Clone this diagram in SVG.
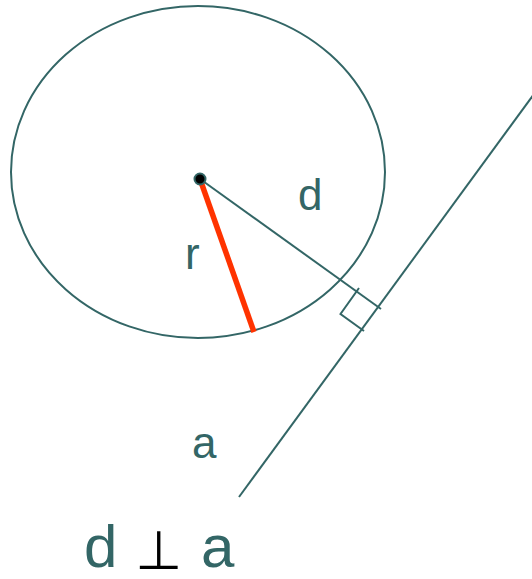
<svg xmlns="http://www.w3.org/2000/svg" width="532" height="579" viewBox="0 0 532 579">
<style>
.ln{fill:none;stroke:#336666;stroke-width:2}
.lbl{font-family:"Liberation Sans",Arial,sans-serif;fill:#336666}
</style>
<rect width="532" height="579" fill="#ffffff"/>
<g id="circle">
<ellipse class="ln" cx="198" cy="172" rx="187" ry="166"/>
</g>
<g id="connectors">
<line id="line-a" class="ln" x1="239" y1="497" x2="534" y2="94"/>
<line id="line-d" class="ln" x1="200" y1="179" x2="381" y2="309"/>
<polyline id="right-angle" class="ln" points="359,288 340.5,314 364,331"/>
<line id="radius" x1="200" y1="179" x2="254" y2="332" stroke="#ff3300" stroke-width="5.5"/>
</g>
<g id="center">
<circle cx="200" cy="179" r="5.5" fill="#000000" stroke="#336666" stroke-width="2"/>
</g>
<g id="labels">
<text class="lbl" x="298" y="210" font-size="44">d</text>
<text class="lbl" x="185" y="269" font-size="44">r</text>
<text class="lbl" x="192" y="458" font-size="44">a</text>
<text class="lbl" x="84" y="567" font-size="60">d</text>
<text x="135" y="569" font-size="54" font-family="DejaVu Sans,sans-serif" fill="#000000">⊥</text>
<text class="lbl" x="201" y="567" font-size="60">a</text>
</g>
</svg>
